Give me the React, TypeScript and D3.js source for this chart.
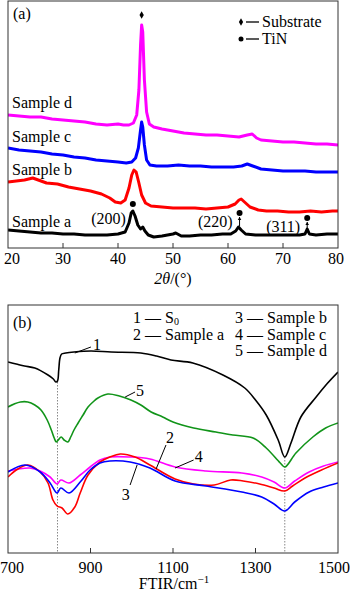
import React from 'react';
import * as d3 from 'd3';

type Pt = [number, number];

// XRD (2θ in degrees, intensity in a.u.)
const xrdTicks = [20, 30, 40, 50, 60, 70, 80];

const sampleD: Pt[] = [
  [20, 133], [22, 132], [24, 131], [26, 131], [28, 129], [30, 128], [32, 127], [34, 126], [36, 124],
  [38, 123], [40, 124], [41, 123], [42, 123], [42.8, 125], [43.4, 133], [43.8, 158], [44.1, 203],
  [44.3, 223], [44.5, 216], [44.8, 168], [45.2, 136], [45.7, 124], [46.5, 121], [48, 119], [50, 117],
  [52, 115], [54, 114], [56, 113], [58, 113], [60, 112], [62, 111], [63.5, 113], [64.4, 114],
  [65.2, 110], [66, 108], [68, 107], [70, 106], [72, 106], [74, 105], [76, 104], [78, 104], [80, 103],
];

const sampleC: Pt[] = [
  [20, 100], [22, 98], [24, 97], [26, 96], [28, 94], [30, 93], [32, 91], [34, 90], [36, 88], [38, 87],
  [40, 86], [41.5, 85], [42.5, 86], [43.2, 90], [43.7, 100], [44.1, 118], [44.3, 126], [44.5, 121],
  [44.8, 103], [45.2, 88], [45.8, 83], [47, 82], [49, 82], [51, 83], [53, 82], [55, 82], [57, 81],
  [59, 81], [61, 81], [62.5, 82], [63.5, 84], [64.5, 82], [66, 79], [68, 78], [70, 77], [72, 77],
  [74, 77], [76, 76], [78, 76], [80, 76],
];

const sampleB: Pt[] = [
  [20, 66], [21.5, 67], [23, 68], [24.5, 70], [25.5, 68], [27, 65], [29, 64], [31, 61], [33, 59],
  [35, 57], [37, 54], [38.5, 50], [39.5, 46], [40.5, 45], [41.3, 48], [42, 60], [42.5, 73], [42.9, 78],
  [43.3, 76], [43.8, 65], [44.3, 53], [45, 45], [46, 42], [48, 41], [50, 40], [52, 40], [54, 40],
  [56, 39], [58, 40], [60, 41], [61.3, 44], [62, 48], [62.4, 49], [63, 46], [64, 41], [65.5, 38],
  [67, 37], [69, 37], [71, 36], [73, 36], [75, 37], [77, 36], [79, 37], [80, 37],
];

const sampleA: Pt[] = [
  [20, 18], [22, 17], [24, 16], [26, 15], [28, 15], [30, 14], [32, 14], [34, 13], [36, 13], [38, 13],
  [40, 14], [41.3, 16], [42, 25], [42.4, 35], [42.7, 37], [43.1, 32], [43.6, 23], [44.1, 19],
  [44.5, 21], [44.9, 17], [45.5, 13], [46.5, 11], [48, 12], [50, 14], [50.5, 15], [51.5, 12], [53, 12],
  [55, 13], [57, 13], [59, 14], [60.5, 14], [61.4, 17], [61.9, 21], [62.4, 18], [63.2, 14], [65, 13],
  [67, 13], [69, 13], [71, 13], [73, 13], [74, 14], [74.4, 19], [74.8, 14], [76, 13], [78, 14], [80, 14],
];

const xrdSeries = [
  { name: 'Sample d', data: sampleD, color: '#ff00ff', labelY: 140 },
  { name: 'Sample c', data: sampleC, color: '#0000ff', labelY: 106 },
  { name: 'Sample b', data: sampleB, color: '#ff0000', labelY: 73 },
  { name: 'Sample a', data: sampleA, color: '#000000', labelY: 21 },
];

const tinPeaks = [42.7, 62.1, 74.4];
const tinMarks = [44, 35, 30];
const tinLabels = ['(200)', '(220)', '(311)'];
const tinArrows: [number, number][] = [[0, 0], [22, 31], [19, 26]];
const substratePeak: Pt = [44.3, 233];

// FTIR (wavenumber in cm-1, transmittance in a.u.)
const ftirTicks = [700, 900, 1100, 1300, 1500];

const curveS0: Pt[] = [
  [700, 191], [720, 189], [740, 187], [765, 185], [797, 178], [810, 174], [816, 171], [820, 172],
  [823, 183], [826, 195], [830, 199], [840, 200], [860, 201], [901, 202], [950, 201], [1022, 200],
  [1060, 197], [1095, 193], [1148, 190], [1221, 178], [1274, 165], [1300, 153], [1326, 138],
  [1355, 113], [1371, 96], [1386, 110], [1410, 136], [1447, 156], [1475, 170], [1500, 181],
];

const curveD: Pt[] = [
  [700, 146], [715, 149], [730, 151], [748, 151], [765, 148], [780, 143], [795, 133], [805, 123],
  [812, 115], [817, 111], [822, 113], [829, 116], [836, 113], [845, 111], [852, 116], [860, 123],
  [870, 130], [882, 138], [894, 146], [906, 151], [918, 155], [942, 159], [970, 157], [998, 153],
  [1022, 148], [1047, 141], [1075, 136], [1100, 131], [1150, 125], [1204, 121], [1245, 118],
  [1294, 115], [1326, 105], [1360, 90], [1371, 86], [1398, 100], [1439, 116], [1470, 125], [1500, 130],
];

const curveA: Pt[] = [
  [700, 76], [720, 83], [748, 88], [778, 81], [797, 70], [809, 53], [819, 47], [831, 45], [845, 39],
  [862, 46], [875, 60], [894, 78], [923, 91], [947, 96], [972, 99], [1008, 96], [1044, 88], [1105, 74],
  [1150, 69], [1200, 68], [1240, 73], [1270, 72], [1310, 69], [1345, 65], [1371, 62], [1390, 67],
  [1420, 75], [1460, 83], [1500, 90],
];

const curveC: Pt[] = [
  [700, 82], [753, 85], [778, 82], [802, 76], [819, 69], [828, 73], [848, 70], [875, 78], [899, 86],
  [923, 93], [947, 96], [996, 96], [1044, 94], [1105, 86], [1180, 82], [1267, 80], [1315, 76],
  [1345, 71], [1371, 65], [1395, 72], [1430, 81], [1465, 87], [1500, 91],
];

const curveB: Pt[] = [
  [700, 81], [741, 88], [778, 81], [802, 70], [819, 60], [828, 65], [848, 60], [875, 71], [899, 83],
  [923, 90], [947, 92], [996, 91], [1044, 85], [1105, 72], [1180, 67], [1267, 61], [1315, 56],
  [1345, 49], [1371, 42], [1395, 51], [1430, 61], [1465, 66], [1500, 70],
];

const ftirSeries = [
  { data: curveS0, color: '#000000' },
  { data: curveD, color: '#119419' },
  { data: curveC, color: '#ff00ff' },
  { data: curveA, color: '#ff0000' },
  { data: curveB, color: '#0000ff' },
];

const dropLines: Pt[] = [[820, 171], [1371, 96]];

// curve number callouts: [x1, y1, x2, y2, textX, textY]
const callouts: { n: string; pts: number[] }[] = [
  { n: '1', pts: [862, 200, 901, 206, 906, 203] },
  { n: '5', pts: [984, 156, 1008, 161, 1010, 157] },
  { n: '2', pts: [1059, 84, 1083, 108, 1083, 110] },
  { n: '3', pts: [996, 68, 1013, 88, 976, 53] },
  { n: '4', pts: [1105, 85, 1150, 93, 1153, 91] },
];

const legendLeft = ['1 — S', '2 — Sample a'];
const legendRight = ['3 — Sample b', '4 — Sample c', '5 — Sample d'];

const W = 350;
const H = 591;
const serif = { fontFamily: "'Liberation Serif'", fontSize: 16 };

const App: React.FC = () => {
  const xA = d3.scaleLinear().domain([20, 80]).range([8, 338]);
  const yA = d3.scaleLinear().domain([0, 247]).range([248, 1]);
  const xB = d3.scaleLinear().domain([700, 1500]).range([8, 338]);
  const yB = d3.scaleLinear().domain([0, 248]).range([553, 305]);

  const lineA = d3.line<Pt>().x(d => xA(d[0])).y(d => yA(d[1]));
  const lineB = d3.line<Pt>().x(d => xB(d[0])).y(d => yB(d[1])).curve(d3.curveCatmullRom.alpha(0.5));
  const diamond = d3.symbol().type(d3.symbolDiamond).size(16)();

  // edge tick labels are pulled inside the picture
  const tickAnchor = (i: number, n: number) => (i === 0 ? 'start' : i === n - 1 ? 'end' : 'middle');
  const tickX = (x: number, i: number, n: number) => (i === 0 ? 0 : i === n - 1 ? 350 : x);

  return (
    <div style={{ position: 'absolute', left: 0, top: 0 }}>
      <svg width={W} height={H} style={{ display: 'block', background: '#fff' }}>
        <defs>
          <clipPath id="clipA"><rect x={8} y={1} width={330} height={247} /></clipPath>
          <clipPath id="clipB"><rect x={8} y={305} width={330} height={248} /></clipPath>
        </defs>

        {/* Panel (a) */}
        <g clipPath="url(#clipA)">
          {xrdSeries.map(s => (
            <path key={s.name} d={lineA(s.data) || ''} fill="none" stroke={s.color}
              strokeWidth={3} strokeLinejoin="round" />
          ))}
        </g>
        {xrdSeries.map(s => (
          <text key={s.name} x={12} y={yA(s.labelY)} style={serif}>{s.name}</text>
        ))}
        <path d={diamond} transform={`translate(${xA(substratePeak[0])},${yA(substratePeak[1])})`} fill="#000" />
        {tinPeaks.map((p, i) => (
          <g key={p}>
            <circle cx={xA(p)} cy={yA(tinMarks[i])} r={3} fill="#000" />
            {tinArrows[i][1] > 0 && (
              <g>
                <line x1={xA(p)} x2={xA(p)} y1={yA(tinArrows[i][0])} y2={yA(tinArrows[i][1])} stroke="#000" strokeWidth={1} />
                <path d={`M${xA(p) - 1.8},${yA(tinArrows[i][1]) + 3}L${xA(p)},${yA(tinArrows[i][1])}L${xA(p) + 1.8},${yA(tinArrows[i][1]) + 3}Z`} fill="#000" />
              </g>
            )}
            <text x={xA(p) - 7} y={yA(tinMarks[i]) + (i === 0 ? 20 : 14)} textAnchor="end" style={serif}>{tinLabels[i]}</text>
          </g>
        ))}
        <text x={13} y={19} style={serif}>(a)</text>
        <path d={diamond} transform="translate(241,22)" fill="#000" />
        <line x1={246} x2={259} y1={22} y2={22} stroke="#000" strokeWidth={1.3} />
        <text x={262} y={27} style={serif}>Substrate</text>
        <circle cx={241} cy={39} r={2.5} fill="#000" />
        <line x1={246} x2={259} y1={39} y2={39} stroke="#000" strokeWidth={1.3} />
        <text x={262} y={44} style={serif}>TiN</text>

        <rect x={8} y={1} width={330} height={247} fill="none" stroke="#333" strokeWidth={1} />
        {xrdTicks.map((t, i) => (
          <g key={t}>
            {t > 20 && t < 80 && <line x1={xA(t)} x2={xA(t)} y1={248} y2={243} stroke="#333" />}
            <text x={tickX(xA(t), i, xrdTicks.length) + (i === 0 ? 4 : i === xrdTicks.length - 1 ? -6 : 0)}
              y={264} textAnchor={tickAnchor(i, xrdTicks.length)} style={serif}>{t}</text>
          </g>
        ))}
        <text x={173} y={284} textAnchor="middle" style={serif}>
          <tspan fontStyle="italic">2θ</tspan>/(°)
        </text>

        {/* Panel (b) */}
        {dropLines.map(d => (
          <line key={d[0]} x1={xB(d[0])} x2={xB(d[0])} y1={yB(d[1])} y2={553}
            stroke="#888" strokeWidth={1} strokeDasharray="1.5,1.5" />
        ))}
        <g clipPath="url(#clipB)">
          {ftirSeries.map((s, i) => (
            <path key={i} d={lineB(s.data) || ''} fill="none" stroke={s.color} strokeWidth={1.6} />
          ))}
        </g>
        {callouts.map(c => (
          <g key={c.n}>
            <line x1={xB(c.pts[0])} y1={yB(c.pts[1])} x2={xB(c.pts[2])} y2={yB(c.pts[3])} stroke="#000" strokeWidth={1} />
            <text x={xB(c.pts[4])} y={yB(c.pts[5])} style={serif}>{c.n}</text>
          </g>
        ))}
        <text x={13} y={328} style={serif}>(b)</text>
        {legendLeft.map((t, i) => (
          <text key={t} x={133} y={323 + i * 16.5} style={serif}>
            {t}{i === 0 && <tspan style={{ fontSize: 10 }} dy={2}>0</tspan>}
          </text>
        ))}
        {legendRight.map((t, i) => (
          <text key={t} x={235} y={323 + i * 16.5} style={serif}>{t}</text>
        ))}

        <rect x={8} y={305} width={330} height={248} fill="none" stroke="#333" strokeWidth={1} />
        {ftirTicks.map((t, i) => (
          <g key={t}>
            {t > 700 && t < 1500 && <line x1={xB(t)} x2={xB(t)} y1={553} y2={548} stroke="#333" />}
            <text x={tickX(xB(t), i, ftirTicks.length)} y={573}
              textAnchor={tickAnchor(i, ftirTicks.length)} style={serif}>{t}</text>
          </g>
        ))}
        <text x={174} y={589} textAnchor="middle" style={serif}>
          FTIR/cm<tspan style={{ fontSize: 11 }} dy={-6}>−1</tspan>
        </text>
      </svg>
    </div>
  );
};

export default App;
